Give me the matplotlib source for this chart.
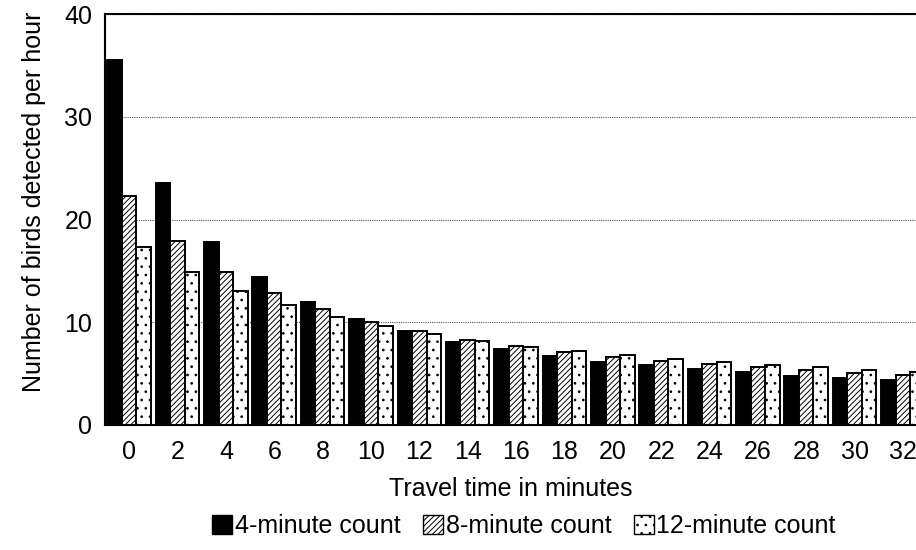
import matplotlib
matplotlib.use('Agg')
import matplotlib.pyplot as plt
import numpy as np
from matplotlib.patches import Patch

plt.rcParams['font.family'] = ['Liberation Sans', 'DejaVu Sans']
plt.rcParams['hatch.linewidth'] = 0.7

# travel time in minutes (groups)
travel = [0, 2, 4, 6, 8, 10, 12, 14, 16, 18, 20, 22, 24, 26, 28, 30, 32]
count4 = [35.5, 23.6, 17.8, 14.4, 12.0, 10.3, 9.1, 8.1, 7.35, 6.7, 6.15, 5.8, 5.45, 5.15, 4.8, 4.6, 4.4]
count8 = [22.3, 17.9, 14.9, 12.8, 11.3, 10.0, 9.1, 8.3, 7.65, 7.15, 6.6, 6.2, 5.9, 5.6, 5.35, 5.1, 4.9]
count12 = [17.3, 14.9, 13.0, 11.7, 10.5, 9.6, 8.85, 8.2, 7.6, 7.2, 6.8, 6.4, 6.1, 5.8, 5.6, 5.35, 5.15]
labels = ['4-minute count', '8-minute count', '12-minute count']

fig = plt.figure(figsize=(9.16, 5.5), dpi=100)
ax = fig.add_axes([0.1146, 0.2273, 0.8854, 0.7472])

x = np.arange(len(travel))
w = 0.3
ax.bar(x - w, count4, w, color='black', edgecolor='black', linewidth=1.4, zorder=3)
ax.bar(x, count8, w, color='white', edgecolor='black', hatch='//////', linewidth=1.4, zorder=3)
ax.bar(x + w, count12, w, color='white', edgecolor='black', hatch='..', linewidth=1.4, zorder=3)

ax.set_ylim(0, 40)
ax.set_xlim(-0.5, 16.27)
ax.set_yticks([0, 10, 20, 30, 40])
ax.set_xticks(x)
ax.set_xticklabels([str(t) for t in travel])
ax.tick_params(axis='x', length=0, labelsize=18, pad=11)
ax.tick_params(axis='y', length=0, labelsize=18, pad=9)
ax.yaxis.grid(True, linestyle=(0, (1, 1)), color='#555555', linewidth=0.8, zorder=0)
ax.spines['right'].set_visible(False)
for s in ['left', 'bottom', 'top']:
    ax.spines[s].set_linewidth(1.5)

ax.set_xlabel('Travel time in minutes', fontsize=18, labelpad=9)
ax.set_ylabel('Number of birds detected per hour', fontsize=18)
ax.yaxis.set_label_coords(-0.073, 0.543)

handles = [Patch(facecolor='black', edgecolor='black'),
           Patch(facecolor='white', edgecolor='black', hatch='//////'),
           Patch(facecolor='white', edgecolor='black', hatch='..')]
fig.legend(handles, labels, loc='center', bbox_to_anchor=(0.572, 0.043), ncol=3,
           frameon=False, fontsize=18, handlelength=0.8, handleheight=0.8,
           handletextpad=0.1, columnspacing=0.9)

fig.savefig('out.png', dpi=100)
